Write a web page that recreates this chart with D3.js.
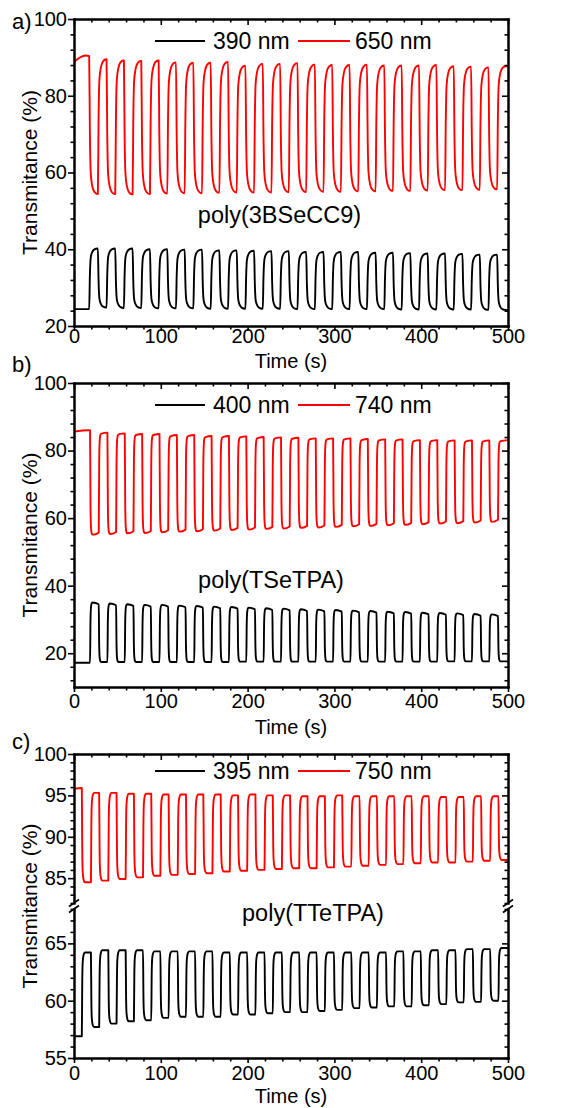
<!DOCTYPE html>
<html>
<head>
<meta charset="utf-8">
<script src="https://cdn.jsdelivr.net/npm/d3@7"></script>
<style>
    body { margin: 0; background: #fff; }
    svg { display: block; }
    text { font-family: Arial, "Liberation Sans", sans-serif; fill: #000; }
</style>
</head>
<body>
<svg id="chart" width="565" height="1108"></svg>
<script>
'use strict';

// a) poly(3BSeCC9): switching times (s) and plateau levels (%) read per cycle
var aOn = [17.5, 37.5, 57.5, 77.5, 97.5, 117.5, 137.5, 157.5, 177.5, 197.5, 217.5, 237.5,
    257.5, 277.5, 297.5, 317.5, 337.5, 357.5, 377.5, 397.5, 417.5, 437.5, 457.5, 477.5];
var aRedInit = [[0, 88.8], [13, 90.5], [17.5, 90.3]];
var aRedLow = [54.4, 54.4, 54.3, 54.4, 54.5, 54.6, 54.6, 54.7, 54.8, 54.8, 54.8, 54.9,
    54.9, 55.0, 55.0, 55.1, 55.1, 55.2, 55.2, 55.3, 55.4, 55.4, 55.5, 55.6];
var aRedHigh = [89.5, 89.2, 89.1, 89.2, 88.7, 88.6, 88.6, 88.8, 87.8, 88.3, 88.3, 88.5,
    88.1, 88.0, 88.0, 88.1, 87.9, 87.9, 87.9, 88.0, 87.7, 87.6, 87.4, 87.7];
var aBlackInit = [[0, 24.4]];
var aBlackHigh = [40.2, 40.2, 40.2, 40.0, 40.0, 39.9, 39.9, 39.7, 39.7, 39.6, 39.5, 39.5,
    39.3, 39.3, 39.3, 39.3, 39.1, 39.1, 39.0, 38.9, 38.9, 38.8, 38.6, 38.6];
var aBlackLow = [24.8, 24.7, 24.7, 24.6, 24.6, 24.6, 24.5, 24.5, 24.5, 24.5, 24.5, 24.4,
    24.4, 24.4, 24.4, 24.4, 24.4, 24.3, 24.3, 24.3, 24.3, 24.3, 24.2, 24.2];

// b) poly(TSeTPA)
var bOn = [18.5, 38.5, 58.5, 78.5, 98.5, 118.5, 138.5, 158.5, 178.5, 198.5, 218.5, 238.5,
    258.5, 278.5, 298.5, 318.5, 338.5, 358.5, 378.5, 398.5, 418.5, 438.5, 458.5, 478.5];
var bRedInit = [[0, 85.6], [17, 86.0], [18.5, 86.0]];
var bRedLow = [55.1, 55.3, 55.5, 55.6, 55.8, 56.0, 56.1, 56.3, 56.5, 56.6, 56.8, 56.9,
    57.1, 57.2, 57.4, 57.6, 57.7, 57.9, 58.0, 58.2, 58.4, 58.5, 58.7, 58.9];
var bRedHigh = [85.0, 84.8, 84.6, 84.6, 84.3, 84.3, 84.0, 84.0, 83.9, 83.7, 83.6, 83.5,
    83.3, 83.3, 83.3, 83.1, 83.0, 83.0, 82.8, 82.8, 82.7, 82.7, 82.7, 82.8];
var bBlackInit = [[0, 17.2]];
var bBlackHigh = [35.0, 34.7, 34.5, 34.3, 34.3, 34.1, 34.0, 33.8, 33.7, 33.5, 33.3, 33.2,
    33.0, 32.9, 32.8, 32.6, 32.5, 32.3, 32.2, 32.0, 31.9, 31.8, 31.6, 31.5];
var bBlackLow = [17.4, 17.4, 17.4, 17.4, 17.4, 17.4, 17.4, 17.4, 17.5, 17.5, 17.5, 17.5,
    17.5, 17.5, 17.5, 17.5, 17.5, 17.5, 17.5, 17.5, 17.6, 17.6, 17.6, 17.6];

// c) poly(TTeTPA)
var cOn = [9, 29, 49, 69, 89, 109, 129, 149, 169, 189, 209, 229, 249,
    269, 289, 309, 329, 349, 369, 389, 409, 429, 449, 469, 489];
var cRedInit = [[0, 95.8], [9, 95.9]];
var cRedLow = [84.5, 84.7, 84.9, 85.1, 85.3, 85.4, 85.5, 85.6, 85.8, 85.9, 86.0, 86.1, 86.2,
    86.2, 86.3, 86.4, 86.5, 86.6, 86.7, 86.8, 86.9, 86.9, 87.0, 87.1, 87.2];
var cRedHigh = [95.3, 95.3, 95.2, 95.2, 95.1, 95.1, 95.1, 95.1, 95.0, 95.1, 95.0, 95.0,
    94.9, 94.9, 95.0, 94.9, 94.9, 94.9, 94.9, 94.9, 94.8, 94.8, 94.9, 94.9];
var cBlackInit = [[0, 56.9]];
var cBlackHigh = [64.2, 64.4, 64.4, 64.4, 64.3, 64.3, 64.3, 64.3, 64.2, 64.2, 64.2, 64.2, 64.2,
    64.2, 64.2, 64.2, 64.2, 64.2, 64.3, 64.3, 64.4, 64.4, 64.5, 64.5, 64.6];
var cBlackLow = [57.7, 58.0, 58.2, 58.3, 58.5, 58.6, 58.6, 58.6, 58.8, 58.8, 58.9, 59.0,
    59.0, 59.1, 59.2, 59.35, 59.4, 59.5, 59.5, 59.6, 59.7, 59.85, 59.9, 60.0];

var xTicks = [0, 100, 200, 300, 400, 500];
var legendA = ['390 nm', '650 nm'];
var legendB = ['400 nm', '740 nm'];
var legendC = ['395 nm', '750 nm'];
var yTitle = 'Transmitance (%)';
var xTitle = 'Time (s)';

var X0 = 74, X1 = 508;
var svg = d3.select('#chart');
var x = d3.scaleLinear().domain([0, 500]).range([X0, X1]);

// shape of a switching step: [seconds after switch, fraction of the step done]
var shapeA = [[0.8, 0.55], [1.8, 0.85], [3.5, 0.94], [6, 0.985], [9.5, 1]];
var shapeB = [[0.5, 0.7], [1.1, 0.93], [2.0, 0.99], [3, 1]];
var shapeC = [[0.5, 0.65], [1.0, 0.88], [2.0, 0.97], [3.5, 1]];

var wave = function(init, ons, half, onVals, offVals, onDrift, offDrift, shape) {
    var pts = init.slice();
    var v = init[init.length - 1][1];
    var step = function(t0, target, drift) {
        if (pts[pts.length - 1][0] < t0) pts.push([t0, v]);
        var v0 = v;
        shape.forEach(function(p) {
            pts.push([t0 + p[0], v0 + (target - v0) * p[1]]);
        });
        v = target + drift;
    };
    ons.forEach(function(t, k) {
        step(t, onVals[k], onDrift);
        if (k < offVals.length) step(t + half, offVals[k], offDrift);
    });
    pts.push([500, v]);
    return pts;
};

var range = function(a, b, s, skip) {
    return d3.range(a, b + 1e-9, s).filter(function(d) {
        return skip.indexOf(d) < 0;
    });
};

var styleAxis = function(g) {
    g.select('.domain').attr('stroke', '#000').attr('stroke-width', 2).attr('stroke-linecap', 'square');
    g.selectAll('.tick line').attr('stroke', '#000').attr('stroke-width', 1.6);
    g.selectAll('text').attr('font-size', 20).attr('fill', '#000')
        .attr('font-family', 'Arial, "Liberation Sans", sans-serif');
};

var panel = function(p) {
    var g = svg.append('g');
    var top = p.segs[0].y.range()[1];
    var bottom = p.segs[p.segs.length - 1].y.range()[0];
    var xMinor = range(0, 500, 20, xTicks);

    p.series.forEach(function(s) {
        g.append('path')
            .datum(s.pts)
            .attr('fill', 'none')
            .attr('stroke', s.color)
            .attr('stroke-width', 1.9)
            .attr('stroke-linejoin', 'round')
            .attr('d', d3.line()
                .x(function(d) { return x(d[0]); })
                .y(function(d) { return s.y(d[1]); })
                .curve(d3.curveMonotoneX));
    });

    p.segs.forEach(function(s) {
        g.append('g').attr('transform', 'translate(' + X0 + ',0)')
            .call(d3.axisLeft(s.y).tickValues(s.minor).tickSize(3.5).tickSizeOuter(0).tickFormat(''))
            .call(styleAxis);
        g.append('g').attr('transform', 'translate(' + X0 + ',0)')
            .call(d3.axisLeft(s.y).tickValues(s.major).tickSize(6).tickSizeOuter(0).tickPadding(1))
            .call(styleAxis);
        g.append('g').attr('transform', 'translate(' + X1 + ',0)')
            .call(d3.axisRight(s.y).tickValues(s.minor).tickSize(-3.5).tickSizeOuter(0).tickFormat(''))
            .call(styleAxis);
        g.append('g').attr('transform', 'translate(' + X1 + ',0)')
            .call(d3.axisRight(s.y).tickValues(s.major).tickSize(-6).tickSizeOuter(0).tickFormat(''))
            .call(styleAxis);
    });

    g.append('g').attr('transform', 'translate(0,' + top + ')')
        .call(d3.axisTop(x).tickValues(xMinor).tickSize(-3.5).tickSizeOuter(0).tickFormat(''))
        .call(styleAxis);
    g.append('g').attr('transform', 'translate(0,' + top + ')')
        .call(d3.axisTop(x).tickValues(xTicks).tickSize(-6).tickSizeOuter(0).tickFormat(''))
        .call(styleAxis);
    g.append('g').attr('transform', 'translate(0,' + bottom + ')')
        .call(d3.axisBottom(x).tickValues(xMinor).tickSize(3.5).tickSizeOuter(0).tickFormat(''))
        .call(styleAxis);
    var xa = g.append('g').attr('transform', 'translate(0,' + bottom + ')')
        .call(d3.axisBottom(x).tickValues(xTicks).tickSize(5).tickSizeOuter(0))
        .call(styleAxis);
    xa.selectAll('text').attr('dy', null).attr('y', p.xLabelBase - bottom);

    // axis break marks
    if (p.segs.length > 1) {
        var yb0 = p.segs[0].y.range()[0];
        var yb1 = p.segs[1].y.range()[1];
        [X0, X1].forEach(function(xx) {
            [yb0, yb1].forEach(function(yy) {
                g.append('line')
                    .attr('x1', xx - 5).attr('y1', yy + 3.5)
                    .attr('x2', xx + 5).attr('y2', yy - 3.5)
                    .attr('stroke', '#000').attr('stroke-width', 1.8);
            });
        });
    }

    g.append('text')
        .attr('x', 12).attr('y', p.labelBase)
        .attr('font-size', 22)
        .text(p.label);

    g.append('text')
        .attr('transform', 'translate(36.5,' + ((top + bottom) / 2) + ') rotate(-90)')
        .attr('text-anchor', 'middle')
        .attr('font-size', 21)
        .text(yTitle);

    g.append('text')
        .attr('x', (X0 + X1) / 2).attr('y', p.xTitleBase)
        .attr('text-anchor', 'middle')
        .attr('font-size', 20)
        .text(xTitle);

    g.append('text')
        .attr('x', p.nameX).attr('y', p.nameBase)
        .attr('text-anchor', 'middle')
        .attr('font-size', 23.5)
        .text(p.name);

    var ly = p.legendY;
    [['#000', 155, 205, 213], ['#ff0000', 298, 350, 355]].forEach(function(l, i) {
        g.append('line')
            .attr('x1', l[1]).attr('x2', l[2]).attr('y1', ly).attr('y2', ly)
            .attr('stroke', l[0]).attr('stroke-width', 1.9);
        g.append('text')
            .attr('x', l[3]).attr('y', ly + 8.3)
            .attr('font-size', 23)
            .text(p.legend[i]);
    });
};

var yA = d3.scaleLinear().domain([20, 100]).range([326, 19]);
panel({
    label: 'a)', labelBase: 29,
    segs: [{ y: yA, major: [20, 40, 60, 80, 100], minor: range(20, 100, 4, [20, 40, 60, 80, 100]) }],
    series: [
        { color: '#000', y: yA, pts: wave(aBlackInit, aOn, 10, aBlackHigh, aBlackLow, 0, 0, shapeA) },
        { color: '#ff0000', y: yA, pts: wave(aRedInit, aOn, 10, aRedLow, aRedHigh, 0, 0, shapeA) }
    ],
    xLabelBase: 343, xTitleBase: 368,
    name: 'poly(3BSeCC9)', nameX: 279.5, nameBase: 223,
    legend: legendA, legendY: 41
});

var yB = d3.scaleLinear().domain([10, 100]).range([687, 383]);
panel({
    label: 'b)', labelBase: 372,
    segs: [{ y: yB, major: [20, 40, 60, 80, 100], minor: range(12, 100, 4, [20, 40, 60, 80, 100]) }],
    series: [
        { color: '#000', y: yB, pts: wave(bBlackInit, bOn, 10, bBlackHigh, bBlackLow, -0.5, 0, shapeB) },
        { color: '#ff0000', y: yB, pts: wave(bRedInit, bOn, 10, bRedLow, bRedHigh, 0.6, 0.3, shapeB) }
    ],
    xLabelBase: 708, xTitleBase: 734,
    name: 'poly(TSeTPA)', nameX: 271, nameBase: 588,
    legend: legendB, legendY: 405
});

var yCu = d3.scaleLinear().domain([82, 100]).range([903, 754]);
var yCl = d3.scaleLinear().domain([55, 68]).range([1058, 909]);
panel({
    label: 'c)', labelBase: 748.5,
    segs: [
        { y: yCu, major: [85, 90, 95, 100], minor: range(82, 100, 1, [85, 90, 95, 100]) },
        { y: yCl, major: [55, 60, 65], minor: range(55, 68, 1, [55, 60, 65]) }
    ],
    series: [
        { color: '#000', y: yCl, pts: wave(cBlackInit, cOn, 10.5, cBlackHigh, cBlackLow, 0, 0, shapeC) },
        { color: '#ff0000', y: yCu, pts: wave(cRedInit, cOn, 10.5, cRedLow, cRedHigh, 0, 0, shapeC) }
    ],
    xLabelBase: 1080, xTitleBase: 1102.5,
    name: 'poly(TTeTPA)', nameX: 313, nameBase: 921,
    legend: legendC, legendY: 771
});
</script>
</body>
</html>
